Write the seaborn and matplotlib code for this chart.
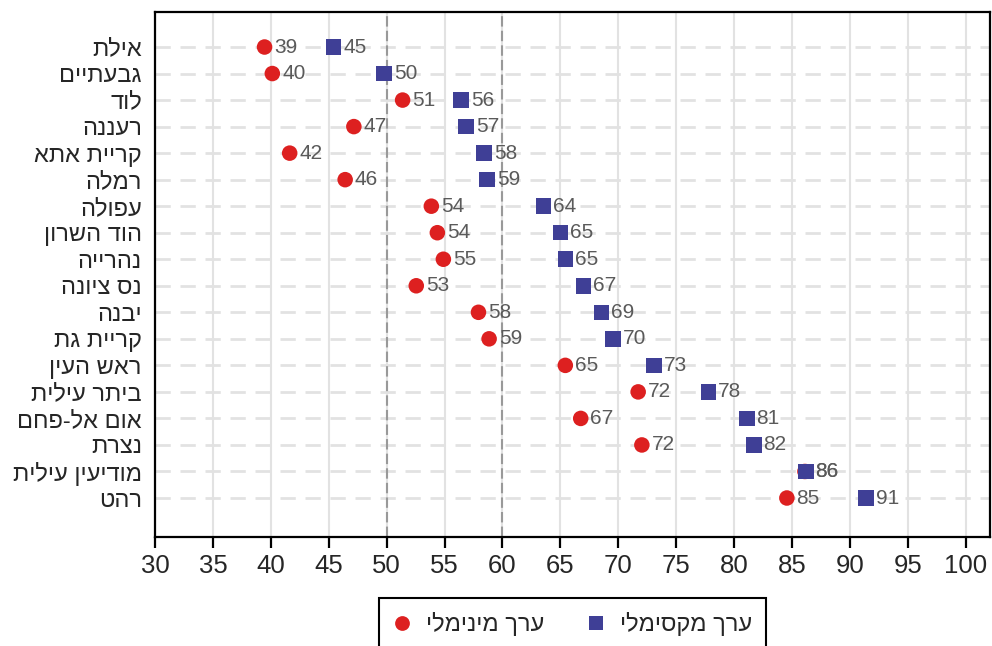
import pandas as pd
import numpy as np
import matplotlib.pyplot as plt
import seaborn as sns

# data
cities = ['אילת', 'גבעתיים', 'לוד', 'רעננה', 'קריית אתא', 'רמלה', 'עפולה', 'הוד השרון',
          'נהרייה', 'נס ציונה', 'יבנה', 'קריית גת', 'ראש העין', 'ביתר עילית',
          'אום אל-פחם', 'נצרת', 'מודיעין עילית', 'רהט']
min_vals = [39.46, 40.13, 51.38, 47.17, 41.63, 46.42, 53.86, 54.38, 54.9, 52.56,
            57.93, 58.85, 65.43, 71.72, 66.76, 72.04, 86.12, 84.56]
max_vals = [45.4, 49.77, 56.43, 56.86, 58.42, 58.68, 63.56, 65.0, 65.43, 66.99,
            68.55, 69.53, 73.1, 77.8, 81.1, 81.7, 86.2, 91.4]
min_name = 'ערך מינימלי'
max_name = 'ערך מקסימלי'

# matplotlib draws left to right, so flip the hebrew strings for display
rtl = lambda s: s[::-1]

df = pd.DataFrame({
    'city': [rtl(c) for c in cities] * 2,
    'value': min_vals + max_vals,
    'kind': [rtl(min_name)] * len(cities) + [rtl(max_name)] * len(cities),
})

sns.set_style('white')
plt.rcParams['font.family'] = ['Liberation Sans', 'DejaVu Sans']

fig = plt.figure(figsize=(9.92, 6.46), dpi=100)
ax = fig.add_axes([155/992, 1-537/646, (990-155)/992, (537-12)/646])

red = '#dd2020'
blue = '#3f3f96'
sns.scatterplot(data=df, x='value', y='city', hue='kind', style='kind',
                palette={rtl(min_name): red, rtl(max_name): blue},
                markers={rtl(min_name): 'o', rtl(max_name): 's'},
                s=125, linewidth=0, ax=ax, zorder=3)

# value labels (both 86 labels overlap on purpose, as in the source)
for i, (a, b) in enumerate(zip(min_vals, max_vals)):
    for v in (a, b):
        ax.annotate(f'{round(v)}', (v, i), xytext=(7, 0), textcoords='offset points',
                    ha='left', va='center', fontsize=15, color='#5a5a5a', zorder=4)

ax.set_xlim(30, 102.1)
ax.set_ylim(len(cities) - 1 + 1.47, -1.32)
ax.set_xticks(np.arange(30, 101, 5))
ax.set_axisbelow(True)
ax.xaxis.grid(True, color='#e2e2e2', lw=1.5)
ax.yaxis.grid(True, color='#e2e2e2', lw=2, linestyle=(0, (5.5, 3.5)))
for x in (50, 60):
    ax.axvline(x, color='#999999', lw=1.5, linestyle=(0, (5, 2)), zorder=1)

for sp in ax.spines.values():
    sp.set_color('black')
    sp.set_linewidth(1.6)
ax.tick_params(axis='x', bottom=True, length=8, width=1.6, direction='out',
               labelsize=18.5, pad=4, color='black')
ax.tick_params(axis='y', left=False, labelsize=17, pad=6)
ax.set_xlabel('')
ax.set_ylabel('')

sns.move_legend(ax, 'upper center', bbox_to_anchor=(0.5, -0.116), ncol=2,
                title=None, frameon=True, fancybox=False, fontsize=17,
                edgecolor='black', columnspacing=1.8, handletextpad=0.6,
                handlelength=0.8, borderpad=0.6, borderaxespad=0,
                markerscale=0.95)
leg = ax.get_legend()
leg.get_frame().set_linewidth(1.5)
leg.get_frame().set_alpha(1)

fig.savefig('out.png', dpi=100)
